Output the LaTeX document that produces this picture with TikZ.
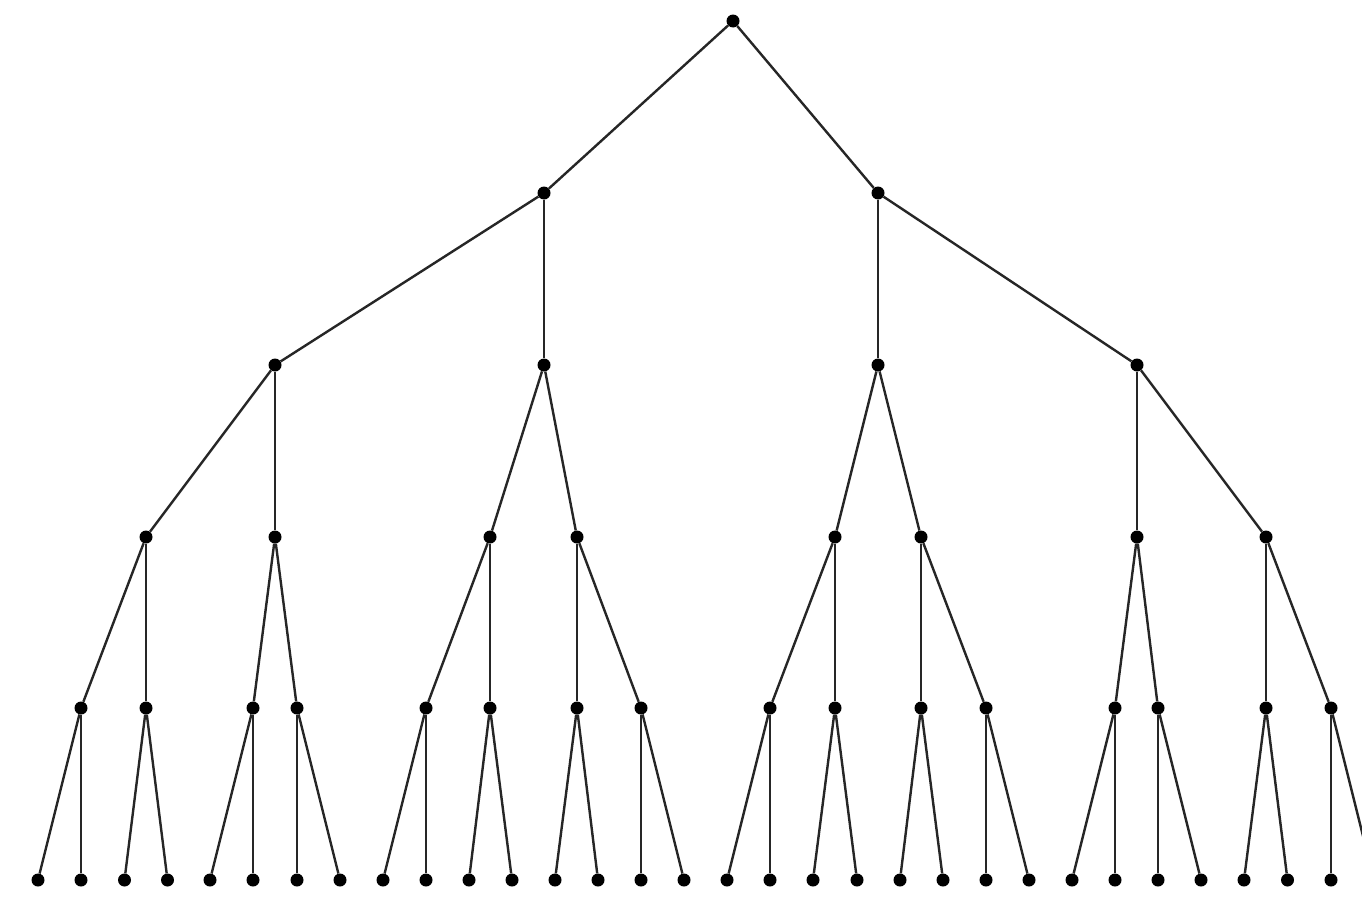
\documentclass[tikz,border=0pt]{standalone}
\begin{document}
\begin{tikzpicture}[x=1pt,y=-1pt,
  dot/.style={circle,fill=black,inner sep=0pt,minimum size=13pt},
  edge/.style={draw=black!85,line width=2.4pt}]
\clip (0,0) rectangle (1362,897);
\fill[white] (0,0) rectangle (1362,897);
% root and level 1
\node[dot] (n0) at (733,21) {};
\node[dot] (n1-0) at (544,193) {};
\node[dot] (n1-1) at (878,193) {};
% level 2
\foreach \x [count=\i from 0] in {275,544,878,1137}
  \node[dot] (n2-\i) at (\x,365) {};
% level 3
\foreach \x [count=\i from 0] in {146,275,490,577,835,921,1137,1266}
  \node[dot] (n3-\i) at (\x,537) {};
% level 4
\foreach \x [count=\i from 0] in {81,146,253,297,426,490,577,641,770,835,921,986,1115,1158,1266,1331}
  \node[dot] (n4-\i) at (\x,708) {};
% leaves
\foreach \x [count=\i from 0] in {38,81,124.5,167.5,210,253,297,340,383,426,469,512,555,598,641,684,727,770,813,857,900,943,986,1029,1072,1115,1158,1201,1244,1287.5,1331,1374}
  \node[dot] (n5-\i) at (\x,880) {};
% edges
\draw[edge] (n0) -- (n1-0);
\draw[edge] (n0) -- (n1-1);
\foreach \i in {0,...,3}{
  \pgfmathtruncatemacro{\p}{div(\i,2)}
  \draw[edge] (n1-\p) -- (n2-\i);}
\foreach \i in {0,...,7}{
  \pgfmathtruncatemacro{\p}{div(\i,2)}
  \draw[edge] (n2-\p) -- (n3-\i);}
\foreach \i in {0,...,15}{
  \pgfmathtruncatemacro{\p}{div(\i,2)}
  \draw[edge] (n3-\p) -- (n4-\i);}
\foreach \i in {0,...,31}{
  \pgfmathtruncatemacro{\p}{div(\i,2)}
  \draw[edge] (n4-\p) -- (n5-\i);}
\end{tikzpicture}
\end{document}
